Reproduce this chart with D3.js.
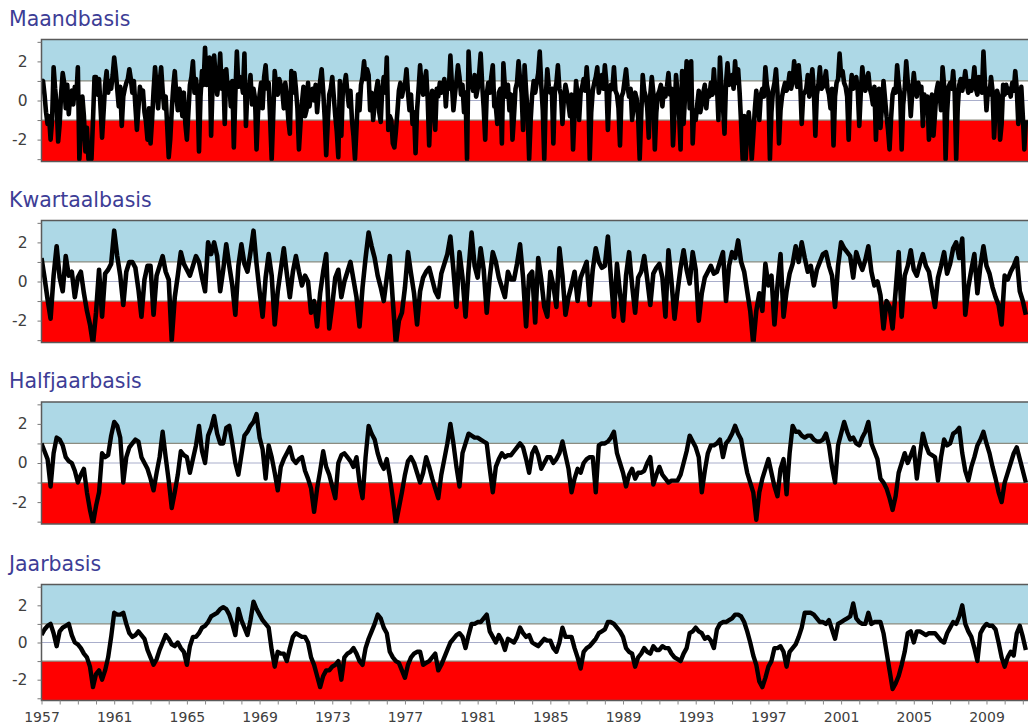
<!DOCTYPE html>
<html>
<head>
<meta charset="utf-8">
<script src="https://cdnjs.cloudflare.com/ajax/libs/d3/7.8.5/d3.min.js"></script>
<style>
  body { margin: 0; background: #fff; }
  svg { display: block; font-family: "DejaVu Sans", Verdana, sans-serif; }
</style>
</head>
<body>
<div id="chart"></div>
<script>
var panelTitles = ["Maandbasis", "Kwartaalbasis", "Halfjaarbasis", "Jaarbasis"];
var startYear = 1957;
var yTicks = [-2, 0, 2];
var xTickYears = d3.range(1957, 2010, 4);

// maandbasis: one value per month, jan 1957 - mar 2011
var maandSPI = [
  0.9, 1.0, 0.3, -0.6, -1.2, -0.8, -2.0, -1.0, 1.7, 0.6, -0.2, -2.1,
  -1.2, 0.4, 1.4, 0.9, -0.4, 0.8, -0.7, 0.3, 0.5, -0.2, 0.7, 0.2,
  1.7, -3.0, -1.5, 0.2, -0.8, -2.6, -1.4, -3.0, -2.2, -3.0, -1.0, 1.2,
  1.2, 0.3, 1.1, -0.4, -1.9, -0.6, 0.8, 1.5, 0.4, 1.0, 0.6, 1.3,
  2.2, 1.5, 0.6, -0.3, 0.7, -1.3, 0.2, 0.6, 0.9, 1.1, 1.6, 1.1,
  0.4, 1.0, -0.3, -1.5, -0.4, 0.7, 0.3, 0.5, -0.6, -1.1, -2.0, -0.4,
  -2.2, -1.0, 0.5, 1.7, 0.6, -0.4, 0.9, 1.7, 0.5, -0.4, 0.2, -1.3,
  -2.9, -2.0, -0.5, 0.7, 1.5, 0.3, -0.5, 0.6, 0.2, -0.8, 0.4, -1.2,
  -2.0, -0.6, 0.8, 1.2, 2.0, 0.4, 1.1, 0.5, -2.6, 0.2, 1.5, 0.8,
  2.7, 0.8, 1.4, 2.2, -1.8, 0.9, 2.3, 1.2, 0.3, 1.0, 2.4, 0.6,
  1.5, -1.2, 1.6, 0.5, 0.9, -0.3, 1.0, -2.4, 0.3, 2.5, 0.7, 1.2,
  1.0, 0.4, 2.4, -1.3, 0.6, 0.5, 1.3, -0.2, 0.6, 0.1, -2.5, -0.6,
  0.3, 0.9, -0.4, 1.2, 1.8, 0.6, 0.9, -1.0, -3.0, -0.8, 1.5, 0.7,
  0.3, 1.1, 0.8, 0.5, -0.4, 0.9, 0.2, -1.0, -1.7, 1.5, 0.4, 1.4,
  0.6, -0.4, -2.5, -1.2, -0.1, 0.7, -0.8, -0.5, 0.9, -0.3, 0.4, 0.6,
  0.0, 0.8, -0.6, 0.4, 1.0, 1.6, 0.5, -0.9, -2.8, -1.2, 0.3, 0.6,
  1.2, 0.2, -0.8, -1.6, -2.9, 1.0, -1.8, 0.6, 0.8, 1.3, 0.4, -0.3,
  0.5, -1.0, -1.8, -3.0, -1.4, 0.3, -0.5, 0.8, 1.2, 2.0, 1.1, 1.6,
  1.3, -0.5, 0.4, -1.0, -0.2, 0.5, 1.0, -0.6, -1.1, 0.6, 1.2, 0.4,
  2.2, -1.5, -0.8, -1.0, -2.2, -2.4, -1.6, -0.6, 0.5, 0.9, 0.2, 0.6,
  0.8, 1.6, 0.4, -0.5, 0.3, -1.2, -0.6, -2.7, -0.5, 0.6, 1.8, 0.7,
  0.3, 1.0, 1.5, 0.1, -2.3, -0.2, 0.5, -0.4, -1.5, 0.6, 0.2, 0.9,
  0.4, 0.7, 1.1, -0.3, 0.9, 0.6, 2.3, 0.8, -0.5, 0.3, 1.0, 1.8,
  1.2, 0.3, 0.8, -0.6, 0.4, -3.0, 2.5, 1.0, 0.9, 0.5, 1.3, 0.2,
  0.6, 1.4, 2.4, 0.8, -0.4, -2.0, 0.3, 0.9, 0.4, 1.2, 1.8, -0.3,
  -0.3, -1.2, 0.4, 0.6, -2.2, 1.9, 0.7, 0.2, 0.8, -0.5, 0.3, -2.0,
  -0.8, 0.6, 0.9, 2.0, 1.1, 0.4, -1.5, 1.8, 0.5, -0.6, -3.0, -1.0,
  0.3, 1.0, 0.4, 0.9, 1.4, 2.5, 0.8, -0.5, -3.0, 0.2, 1.6, 0.7,
  0.4, 0.6, -2.2, 0.5, 0.9, 1.8, 0.6, 0.3, -1.2, 0.2, 0.8, 0.4,
  -0.2, -0.8, 0.3, -2.5, -0.6, 1.0, 0.2, -1.0, 0.4, 0.7, 1.1, 0.5,
  1.7, 0.6, -3.0, -0.6, 0.5, 0.9, 1.2, 1.7, 0.4, 1.0, 1.3, 0.6,
  1.8, 0.9, -1.5, 0.4, 0.8, 0.6, 1.7, 0.5, 0.3, -0.4, -2.3, 0.2,
  0.4, 1.0, 1.6, 0.7, 0.2, 0.6, -1.0, -0.3, 0.4, 0.1, -0.9, -3.0,
  -0.8, 1.3, 0.5, 0.2, -0.4, -1.9, 0.3, 1.2, 0.4, -2.5, -0.6, 0.3,
  0.5, 0.8, -0.3, 0.6, 0.2, 0.7, 1.4, 0.3, 0.6, -2.3, -0.7, 1.3,
  0.4, -0.6, -2.5, 1.5, -1.2, 0.3, 2.0, 1.9, -0.4, 2.0, -2.2, -0.5,
  -1.0, -0.2, 0.5, -0.6, -0.2, 0.4, 0.8, -0.4, 0.5, 0.2, 0.9, 0.3,
  1.6, 0.4, 0.8, -1.0, 2.2, 0.6, -0.3, -1.7, 0.9, 1.9, 0.8, 1.1,
  1.3, 0.6, 2.0, 0.9, 1.6, 0.4, -1.2, -3.0, -0.8, -3.0, -1.4, -0.6,
  -1.5, -3.0, -1.8, -0.5, 0.5, -0.2, -1.0, 0.3, 0.6, 0.2, 1.7, 0.8,
  0.4, -3.0, -0.6, 0.5, 0.9, 1.6, 0.4, -2.2, -0.5, 0.2, 0.6, 0.9,
  0.5, 0.8, 1.4, 0.6, 1.0, 2.0, 1.2, 0.7, 1.8, 0.9, -1.2, 0.3,
  0.4, 0.6, 1.3, 0.2, 0.9, 1.6, 0.5, -1.8, 0.3, 0.8, 1.7, 0.6,
  0.7, 1.0, 1.5, 0.6, 0.3, -0.4, 0.6, -2.3, 0.2, 0.9, 1.1, 2.4,
  1.3, 1.5, 0.9, 0.7, 0.2, -2.0, 0.4, 1.3, 0.6, 0.8, 1.2, 0.5,
  -1.3, 0.4, 1.7, 0.9, 0.5, 1.1, 1.4, 0.6, 0.3, -0.2, 0.7, -2.0,
  0.2, 0.6, -1.4, -0.3, 1.0, 0.1, -0.8, -1.5, -2.5, -0.9, 0.3, 0.6,
  0.4, 1.8, 0.9, 0.3, -2.5, -0.2, 0.6, 2.0, 1.0, 0.5, -0.8, 0.4,
  1.4, 0.6, 0.2, 0.9, 0.4, 0.7, -1.3, 0.3, -0.4, 0.2, -2.0, -0.6,
  0.3, -1.8, -0.7, 0.5, 0.9, 0.4, -0.5, 1.7, 0.8, -3.0, -0.6, 0.7,
  0.9, 0.6, 1.5, 0.4, -3.0, -0.4, 0.8, 1.1, 0.5, 0.9, 1.5, 0.8,
  0.4, 1.0, 0.5, 0.9, 1.7, 0.6, 0.3, 1.2, 0.7, 0.4, 2.5, 0.9,
  -0.5, 0.6, 0.3, 1.2, 0.5, -1.9, -0.4, 0.5, 0.2, -2.0, -1.2, 0.8,
  0.3, 0.8, 0.4, 0.6, 0.2, 0.9, 0.5, 1.5, 0.6, -1.2, -0.3, 0.7,
  -0.8, -2.5, -1.0
];

// the other three: one value per two months, jan 1957 - mar 2011
var kwartaalSPI = [
  1.2, 0.2, -0.9, -1.9, 0.3, 1.8,
  0.2, -0.5, 1.3, 0.3, 0.5, -0.8,
  0.2, 0.5, -0.6, -1.5, -2.2, -3.2,
  -1.6, 0.6, -1.8, 0.4, 0.6, 0.9,
  2.6, 1.3, 0.3, -1.2, 0.5, 1.0,
  1.0, 0.7, -0.4, -1.8, 0.1, 0.8,
  0.8, -1.7, 0.3, 0.8, 1.3, 0.5,
  0.1, -3.0, -0.8, 0.3, 1.5, 0.9,
  0.6, 0.3, 0.8, 1.3, 1.0, 0.2,
  -0.5, 2.0, 1.4, 2.0, 1.3, -0.5,
  0.6, 1.9, 0.8, -0.2, -1.7, 0.8,
  1.9, 0.9, 0.5, 1.5, 2.6, 0.9,
  -0.5, -1.8, 0.2, 1.4, 0.3, -2.2,
  -0.5, 0.6, 1.7, 0.4, -0.8, 0.5,
  1.3, 0.5, -0.2, 0.3, 0.0, -1.6,
  -1.0, -2.3, -0.6, 0.5, 1.4, -2.4,
  -1.2, 0.2, 0.6, -0.8, 0.0, 0.5,
  1.0, 0.1, -0.8, -2.3, -0.3, 1.2,
  2.5, 1.8, 1.2, 0.3, -0.3, -1.0,
  0.2, 1.3, -1.0, -3.2, -2.0, -1.6,
  -0.3, 1.5, 0.4, -0.6, -2.2, -0.5,
  0.2, 0.5, 0.7, 0.1, -0.5, -0.8,
  0.4, 0.9, 1.4, 2.3, 0.6, -1.3,
  1.5, 0.2, -1.8, 0.6, 2.5, 0.8,
  0.2, 1.7, 0.6, -1.6, 0.2, 1.5,
  1.0, 0.2, -0.3, -0.8, 0.5, 0.1,
  0.1, 0.9, 1.9, 0.2, -2.3, 0.3,
  0.5, -2.1, 1.2, 0.1, -1.3, -1.8,
  0.5, -0.2, -1.3, 1.7, 0.3, -1.7,
  -0.8, -0.2, 0.5, -1.0, 0.2, 0.6,
  1.0, -1.2, 0.6, 1.7, 1.0, 0.7,
  0.8, 2.3, 0.2, -1.8, 0.9, -0.6,
  -2.0, 0.3, 1.5, -0.2, -1.6, 0.2,
  0.5, 1.3, 0.1, -1.2, 0.4, 0.7,
  0.9, 0.2, -1.8, 1.6, 0.0, -1.9,
  -0.5, 0.7, 1.6, 0.6, -0.1, 1.5,
  0.6, -2.0, -0.6, 0.2, 0.5, 0.8,
  0.4, 0.5, 1.0, 1.5, -1.0, 0.8,
  1.5, 1.2, 2.1, 1.0, 0.5, -0.5,
  -1.5, -3.2, -1.5, -0.6, -1.5, 0.9,
  -0.2, 0.3, -2.2, -0.2, 1.4, -1.8,
  -0.5, 0.4, 0.9, 1.8, 1.0, 2.0,
  1.2, 0.5, 0.8, -0.2, 0.6, 1.0,
  1.4, 1.5, 0.8, 0.3, -1.3, 0.8,
  2.0, 1.7, 1.5, 1.3, 0.2, 1.5,
  1.0, 0.6, 1.1, 1.8, 0.5, -0.2,
  0.0, -0.7, -2.4, -1.0, -1.3, -2.4,
  -0.5, 1.5, -1.8, 0.3, 0.8, 1.6,
  0.6, 0.3, 0.9, 1.4, 0.8, 0.5,
  -0.4, -1.3, 0.2, 0.8, 1.5, 0.4,
  0.9, 1.7, 2.0, 1.2, 2.2, -1.7,
  -0.3, 0.6, 1.4, -0.6, 0.8, 1.8,
  0.8, 0.4, -0.3, -0.8, -1.2, -2.2,
  0.3, 0.1, 0.5, 0.8, 1.2, -0.5,
  -1.0, -1.7
];

var halfjaarSPI = [
  1.0, 0.6, 0.2, -1.2, 0.5, 1.3,
  1.2, 0.9, 0.3, 0.1, 0.0, -0.4,
  -1.0, -0.6, -0.3, -1.5, -2.4, -3.1,
  -2.2, -1.5, 0.5, 0.3, 0.4, 1.4,
  2.1, 1.9, 1.3, -1.0, 0.3, 0.8,
  1.0, 1.2, 1.1, 0.3, 0.0, -0.3,
  -0.8, -1.4, -0.5, 0.3, 1.6, 0.3,
  -0.9, -2.3, -1.5, -0.6, 0.6, 0.4,
  0.3, -0.5, 0.2, 0.9, 1.9, 0.6,
  0.0, 1.4, 1.8, 2.4, 1.5, 1.0,
  1.0, 1.8, 1.9, 1.0, 0.0, -0.6,
  0.4, 1.4, 1.6, 1.9, 2.1, 2.5,
  1.3, 0.7, -0.8, 0.9, 0.3, -0.5,
  -1.4, -0.2, 0.2, 0.5, 0.8, 0.2,
  0.0, 0.2, 0.3, -0.4, -0.8, -1.3,
  -2.5, -1.3, -0.4, 0.6, -0.2, -0.6,
  -1.2, -1.8, 0.0, 0.4, 0.5, 0.3,
  0.1, -0.2, 0.3, -1.0, -1.8, 0.3,
  1.9, 1.5, 1.2, 0.5, 0.0, -0.3,
  0.2, -0.7, -1.8, -3.1, -2.3, -1.5,
  -0.6, 0.1, 0.3, 0.0, -0.5, -1.0,
  -0.5, 0.3, -0.2, -0.8, -1.3, -1.8,
  -0.6, 0.2, 1.0, 2.0, 1.0, -0.2,
  -1.2, 0.5, 1.0, 1.5, 1.4, 1.3,
  1.3, 1.2, 1.1, 1.0, -0.3, -1.5,
  -0.2, 0.2, 0.5, 0.3, 0.4, 0.4,
  0.6, 0.8, 1.0, 0.8, 0.2, -0.5,
  0.5, 0.8, 0.4, -0.3, 0.0, 0.3,
  0.3, 0.0, 0.2, 0.5, 1.1, 0.4,
  -0.3, -1.5, -0.8, -0.3, -0.5, 0.0,
  0.2, 0.3, 0.3, -1.5, 0.9, 1.0,
  1.0, 1.1, 1.3, 1.6, 0.5, 0.0,
  -0.5, -1.2, -0.6, -0.3, -0.8, -0.5,
  -0.5, -0.4, 0.0, 0.3, -1.1, -0.6,
  -0.2, -0.6, -0.8, -1.0, -0.9, -0.9,
  -0.9, -0.6, 0.0, 0.6, 1.4, 1.1,
  0.8, 0.3, -1.5, -0.4, 0.5, 0.9,
  0.9, 1.0, 1.2, 0.3, 1.0, 1.2,
  1.5, 1.9, 1.5, 1.2, 0.3, -0.5,
  -1.0, -1.5, -2.9, -1.5, -0.8, -0.3,
  0.2, -0.5, -1.2, -1.7, -0.3, 0.2,
  -1.6, 0.5, 1.9, 1.6, 1.6, 1.4,
  1.3, 1.4, 1.4, 1.2, 1.1, 1.1,
  1.2, 1.5, 0.9, -0.2, -1.0, 0.9,
  1.5, 2.1, 1.6, 1.2, 1.3, 1.0,
  0.9, 1.3, 1.6, 2.1, 1.0, 0.6,
  0.2, -0.8, -1.0, -1.3, -1.8, -2.4,
  -1.7, -0.5, 0.0, 0.5, 0.0, 0.4,
  0.8, -0.8, 0.4, 1.5, 0.9, 0.5,
  0.4, 0.3, -0.9, 0.3, 1.2, 0.9,
  1.0, 1.5, 1.6, 1.8, 0.5, -0.4,
  -0.9, -0.2, 0.3, 0.9, 1.2, 1.6,
  1.0, 0.5, -0.2, -0.8, -1.5, -2.0,
  -1.0, -0.5, 0.0, 0.5, 0.8, 0.2,
  -0.4, -1.0
];

var jaarSPI = [
  0.4, 0.7, 0.9, 1.0, 0.5, -0.2,
  0.6, 0.8, 0.9, 1.0, 0.4, 0.0,
  -0.1, -0.3, -0.6, -0.8, -1.3, -2.4,
  -1.7, -1.5, -2.0, -1.5, -0.8, 0.3,
  1.6, 1.5, 1.5, 1.6, 1.0, 0.5,
  0.3, 0.4, 0.6, 0.4, 0.2, -0.4,
  -0.8, -1.2, -0.9, -0.4, 0.0, 0.4,
  0.2, -0.1, -0.2, 0.0, -0.3, -0.5,
  -1.2, -0.2, 0.3, 0.3, 0.5, 0.8,
  0.9, 1.1, 1.4, 1.5, 1.6, 1.8,
  1.9, 1.8, 1.5, 1.0, 0.4, 1.8,
  1.2, 0.8, 0.4, 1.2, 2.2, 1.8,
  1.5, 1.2, 1.0, 0.8, -0.4, -1.3,
  -0.5, -0.6, -0.6, -1.0, -0.3, 0.3,
  0.5, 0.4, 0.3, 0.3, 0.0, -0.8,
  -1.2, -1.8, -2.4, -1.8, -1.5, -1.5,
  -1.3, -1.2, -1.0, -2.0, -0.8, -0.6,
  -0.5, -0.3, -0.6, -1.0, -1.2, -0.3,
  0.2, 0.6, 1.0, 1.5, 1.3, 0.8,
  0.5, -0.5, -0.8, -1.0, -1.1, -1.5,
  -1.9, -1.2, -0.8, -0.6, -0.5, -0.5,
  -1.2, -1.1, -1.0, -0.8, -0.6, -1.5,
  -1.2, -0.8, -0.4, 0.0, 0.2, 0.4,
  0.5, 0.3, -0.3, 0.4, 1.0, 1.0,
  1.1, 1.1, 1.3, 1.5, 0.6, 0.3,
  0.0, 0.4, 0.1, -0.4, 0.2, 0.1,
  0.0, 0.3, 0.8, 0.5, 0.3, 0.4,
  0.0, -0.1, -0.2, 0.0, 0.2, 0.1,
  0.1, -0.3, -0.5, 0.0, 0.8, 0.3,
  0.3, 0.3, -0.3, -0.8, -1.4, -0.5,
  -0.3, -0.2, 0.0, 0.2, 0.5, 0.6,
  0.7, 1.1, 1.1, 1.0, 0.8, 0.6,
  0.3, -0.3, -0.5, -0.6, -1.3, -0.8,
  -0.6, -0.3, -0.5, -0.6, -0.2, -0.4,
  -0.4, -0.2, -0.3, -0.3, -0.6, -0.8,
  -0.9, -1.0, -0.6, -0.3, 0.5, 0.6,
  0.8, 0.6, 0.5, 0.2, 0.3, 0.1,
  -0.3, 0.7, 1.0, 1.1, 1.1, 1.2,
  1.3, 1.5, 1.5, 1.4, 1.1, 0.6,
  0.0, -0.7, -1.2, -2.1, -2.4, -1.9,
  -1.3, -1.0, -0.3, -0.3, -0.2, -0.5,
  -1.3, -0.5, -0.3, -0.1, 0.3, 0.8,
  1.6, 1.6, 1.6, 1.5, 1.3, 1.1,
  1.1, 1.0, 1.2, 0.7, 0.2, 1.0,
  1.1, 1.2, 1.3, 1.4, 2.1, 1.3,
  1.1, 1.0, 1.0, 1.6, 1.0, 1.1,
  1.1, 1.1, 0.5, -0.5, -1.5, -2.5,
  -2.2, -1.8, -1.2, -0.5, 0.5, 0.6,
  0.0, 0.6, 0.6, 0.5, 0.4, 0.5,
  0.5, 0.5, 0.3, 0.1, 0.0, 0.5,
  0.8, 1.1, 1.0, 1.4, 2.0, 1.0,
  0.6, 0.3, -0.3, -1.0, 0.5, 0.8,
  1.0, 0.9, 0.9, 0.7, 0.0, -0.8,
  -1.3, -0.8, -0.5, -0.7, 0.5, 0.9,
  0.3, -0.4
];

var svgWidth = 1028;
var svgHeight = 726;
var panelTop = [39.5, 220.5, 402, 584.5];
var panelHeight = [122, 122, 122, 116];
var yMax = 3.12;

var svg = d3.select("#chart")
    .append("svg")
    .attr("width", svgWidth)
    .attr("height", svgHeight);

// plot runs past the right edge of the picture, as in the original
var xScale = d3.scaleLinear().domain([1957, 2012]).range([41.5, 1041]);

var panels = [
    {values: maandSPI, step: 1 / 12, width: 4.6},
    {values: kwartaalSPI, step: 1 / 6, width: 4.6},
    {values: halfjaarSPI, step: 1 / 6, width: 4.4},
    {values: jaarSPI, step: 1 / 6, width: 4.4}
];

panels.forEach(function(p, i) {
    var h = panelHeight[i];
    var yScale = d3.scaleLinear().domain([-yMax, yMax]).range([h, 0]);
    var x0 = xScale.range()[0], x1 = xScale.range()[1];

    svg.append("text")
        .attr("x", 9)
        .attr("y", panelTop[i] - 14)
        .style("font-size", "20.5px")
        .attr("fill", "#3d3d96")
        .text(panelTitles[i]);

    var g = svg.append("g").attr("transform", `translate(0, ${panelTop[i]})`);

    g.append("clipPath").attr("id", "clip" + i)
        .append("rect")
        .attr("x", x0).attr("y", 0)
        .attr("width", x1 - x0).attr("height", h);

    // wet, normal, dry bands
    g.append("rect")
        .attr("x", x0).attr("width", x1 - x0)
        .attr("y", 0).attr("height", yScale(1))
        .attr("fill", "#add8e6");
    g.append("rect")
        .attr("x", x0).attr("width", x1 - x0)
        .attr("y", yScale(-1)).attr("height", h - yScale(-1))
        .attr("fill", "#ff0000");

    g.append("line")
        .attr("x1", x0).attr("x2", x1)
        .attr("y1", yScale(0)).attr("y2", yScale(0))
        .attr("stroke", "#a9aecb").attr("stroke-width", 1);
    [1, -1].forEach(function(v) {
        g.append("line")
            .attr("x1", x0).attr("x2", x1)
            .attr("y1", yScale(v)).attr("y2", yScale(v))
            .attr("stroke", "#8c8c80").attr("stroke-width", 1.2);
    });

    var line = d3.line()
        .x((d, j) => xScale(startYear + j * p.step))
        .y(d => yScale(d));

    g.append("path")
        .datum(p.values)
        .attr("d", line)
        .attr("clip-path", `url(#clip${i})`)
        .attr("fill", "none")
        .attr("stroke", "#000")
        .attr("stroke-width", p.width)
        .attr("stroke-linejoin", "round");

    g.append("rect")
        .attr("x", x0).attr("y", 0)
        .attr("width", x1 - x0).attr("height", h)
        .attr("fill", "none")
        .attr("stroke", "#5a5a5a")
        .attr("stroke-width", 1.5);

    var yAxis = d3.axisLeft(yScale)
        .tickValues([-3, -2, -1, 0, 1, 2, 3])
        .tickSize(4)
        .tickPadding(10)
        .tickFormat(d => yTicks.includes(d) ? String(d) : "");
    var ya = g.append("g")
        .attr("transform", `translate(${x0}, 0)`)
        .call(yAxis);
    ya.select(".domain").remove();
    ya.selectAll("line").attr("stroke", "#777");
    ya.selectAll("text")
        .style("font-size", "15.5px")
        .style("font-family", "DejaVu Sans, Verdana, sans-serif")
        .attr("fill", "#404040");

    if (i == panels.length - 1) {
        var xAxis = d3.axisBottom(xScale)
            .tickValues(d3.range(1957, 2012))
            .tickSize(4)
            .tickPadding(8)
            .tickFormat(d => xTickYears.includes(d) ? String(d) : "");
        var xa = g.append("g")
            .attr("transform", `translate(0, ${h})`)
            .call(xAxis);
        xa.select(".domain").remove();
        xa.selectAll("line").attr("stroke", "#888");
        xa.selectAll("text")
            .style("font-size", "14px")
            .style("font-family", "DejaVu Sans, Verdana, sans-serif")
            .attr("fill", "#404040");
    }
});
</script>
</body>
</html>
